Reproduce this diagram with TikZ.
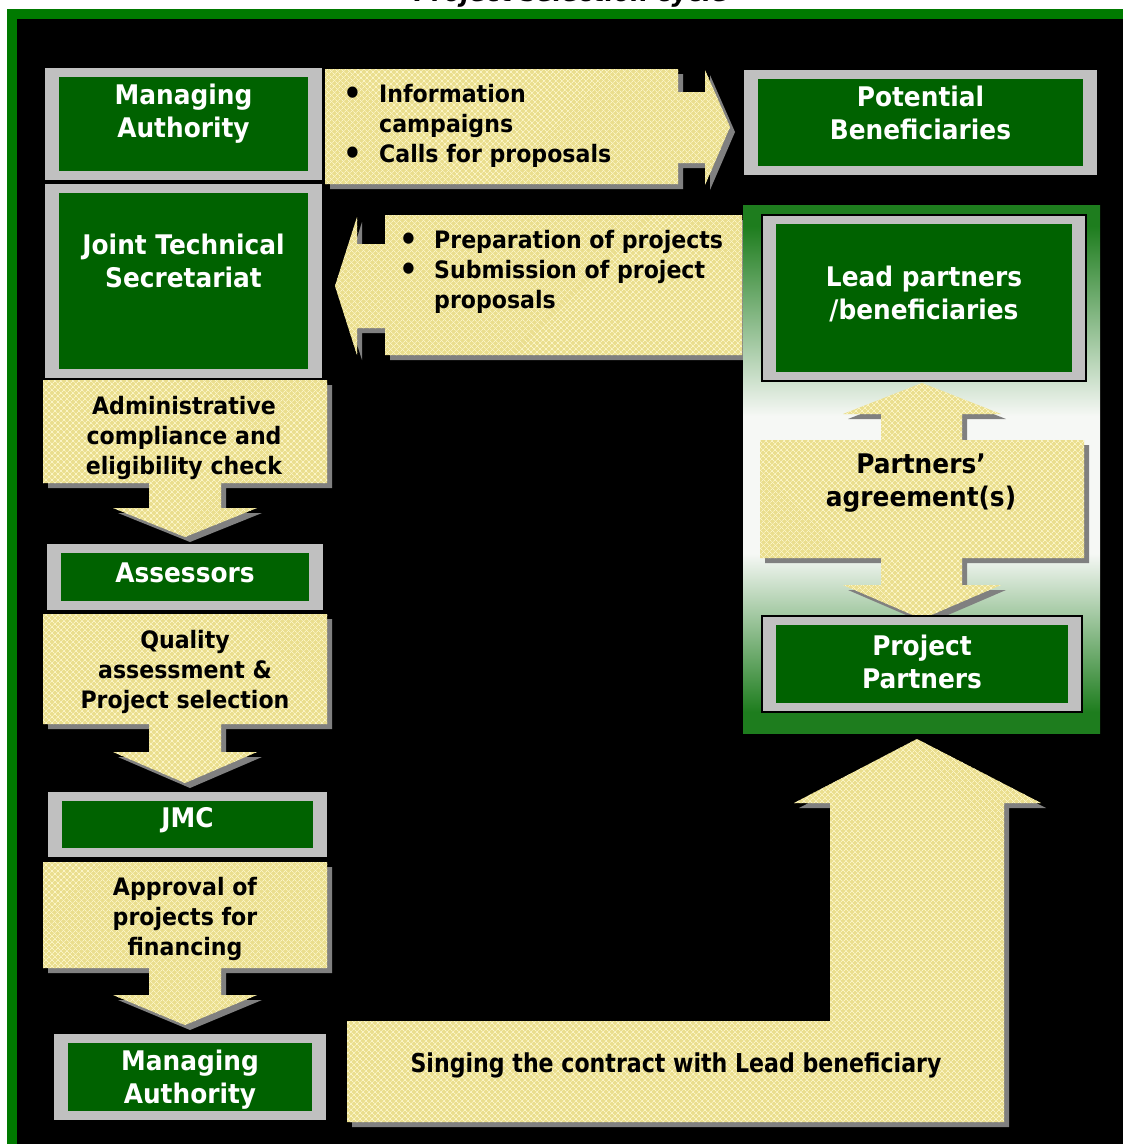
\documentclass[tikz,border=0pt]{standalone}
\usepackage{fontspec}
\setmainfont{DejaVu Sans}[FakeStretch=0.92]
\newfontfamily\contractfont{DejaVu Sans}[FakeStretch=0.85]
\usetikzlibrary{positioning,patterns.meta}

\definecolor{framegreen}{RGB}{0,122,0}
\definecolor{boxgreen}{RGB}{0,98,0}
\definecolor{boxgrey}{RGB}{192,192,192}
\definecolor{shadowgrey}{RGB}{128,128,128}
\definecolor{calloutbase}{RGB}{234,222,142}
\definecolor{calloutlight}{RGB}{251,245,198}
\definecolor{panelgreen}{RGB}{30,125,30}
\definecolor{panelpale}{RGB}{246,248,245}

\pgfdeclareverticalshading{panelfade}{100bp}{color(0bp)=(panelgreen); color(27bp)=(panelgreen);
  color(42bp)=(panelpale); color(55bp)=(panelpale);
  color(73bp)=(panelgreen); color(100bp)=(panelgreen)}

\newcommand{\bigbullet}{\raisebox{-2pt}{\fontsize{32}{30}\selectfont\textbullet}}

\begin{document}
\begin{tikzpicture}[x=1pt, y=-1pt,
  greenbox/.style 2 args = {fill=boxgrey, inner sep=0pt, minimum width=#1, minimum height=#2,
    path picture={\fill[boxgreen] ([xshift=14pt,yshift=-9pt]path picture bounding box.north west)
      rectangle ([xshift=-14pt,yshift=9pt]path picture bounding box.south east);}},
  boxtext/.style = {text=white, font=\bfseries\fontsize{27}{33}\selectfont, align=center, inner sep=0pt},
  steptext/.style = {text=black, font=\bfseries\fontsize{24}{30}\selectfont, align=center, inner sep=0pt},
  listtext/.style = {text=black, font=\bfseries\fontsize{24}{30}\selectfont, inner sep=0pt, anchor=west},
  callout/.style = {fill=calloutbase,
    preaction={fill=shadowgrey, transform canvas={shift={(5pt,-5pt)}}},
    postaction={pattern={Lines[angle=45,distance=4pt,line width=0.7pt]}, pattern color=calloutlight},
    postaction={pattern={Lines[angle=-45,distance=4pt,line width=0.7pt]}, pattern color=calloutlight}}]

  \useasboundingbox (0,0) rectangle (1123,1144);
  \fill[white] (0,0) rectangle (1123,1144);
  \fill[framegreen] (7,9) rectangle (1140,1160);
  \fill[black] (17,19) rectangle (1140,1160);
  \node[font=\bfseries\itshape\fontsize{27}{30}\selectfont, anchor=base, inner sep=0pt] (title) at (571,1) {Project selection cycle};

  % left column
  \node[greenbox={277pt}{112pt}] (MA1) at (183.5,124) {};
  \node[boxtext] (MA1txt) at ([yshift=10pt]MA1.center) {Managing\\Authority};
  \node[greenbox={277pt}{194pt}, below=4pt of MA1] (JTS) {};
  \node[boxtext] (JTStxt) at ([yshift=20pt]JTS.center) {Joint Technical\\Secretariat};

  \foreach \yt/\yb/\yh/\ytip in {380/483/508/537, 614/724/752/783, 862/968/995/1025}
    \path[callout] (43,\yt) -- (327,\yt) -- (327,\yb) -- (221,\yb) -- (221,\yh) -- (257,\yh)
      -- (185,\ytip) -- (113,\yh) -- (149,\yh) -- (149,\yb) -- (43,\yb) -- cycle;
  \node[steptext] (ADMtxt) at (184,438) {Administrative\\compliance and\\eligibility check};

  \node[greenbox={276pt}{66pt}] (AS) at (185,577) {};
  \node[boxtext] (AStxt) at ([yshift=4pt]AS.center) {Assessors};
  \node[steptext] (QAtxt) at (185,672) {Quality\\assessment \&\\Project selection};

  \node[greenbox={279pt}{65pt}] (JMC) at (187.5,824.5) {};
  \node[boxtext] (JMCtxt) at ([yshift=4pt]JMC.center) {JMC};
  \node[steptext] (APPtxt) at (185,919) {Approval of\\projects for\\financing};

  \node[greenbox={272pt}{86pt}] (MA2) at (190,1077) {};
  \node[boxtext] (MA2txt) at ([yshift=-3pt]MA2.center) {Managing\\Authority};

  % calls and submissions
  \path[callout] (325,69) -- (678,69) -- (678,92) -- (705,92) -- (705,70) -- (730,127)
    -- (705,185) -- (705,163) -- (678,163) -- (678,184) -- (325,184) -- cycle;
  \node[listtext] (INFtxt) at (343,126) {\begin{tabular}{@{}p{36pt}@{}l@{}}
    \bigbullet & Information\\ & campaigns\\ \bigbullet & Calls for proposals\end{tabular}};
  \path[callout] (742,215) -- (742,355) -- (385,355) -- (385,328) -- (357,328) -- (357,355)
    -- (335,286) -- (357,217) -- (357,244) -- (385,244) -- (385,215) -- cycle;
  \node[listtext] (SUBtxt) at (399,272.5) {\begin{tabular}{@{}p{35pt}@{}l@{}}
    \bigbullet & Preparation of projects\\ \bigbullet & Submission of project\\ & proposals\end{tabular}};

  \node[greenbox={353pt}{105pt}] (PB) at (920.5,122.5) {};
  \node[boxtext] (PBtxt) at ([yshift=10pt]PB.center) {Potential\\Beneficiaries};

  % partnership group
  \node[shading=panelfade, minimum width=357pt, minimum height=528pt, inner sep=0pt] (grp) at (921.5,469) {};
  \node[greenbox={324pt}{166pt}, draw=black, line width=1.5pt] (LP) at (924,298) {};
  \node[boxtext] (LPtxt) at ([yshift=4pt]LP.center) {Lead partners\\/beneficiaries};
  \path[callout] (760,440) -- (881,440) -- (881,414) -- (843,414) -- (922,383) -- (1001,414)
    -- (962,414) -- (962,440) -- (1084,440) -- (1084,558) -- (962,558) -- (962,585) -- (1001,585)
    -- (922,619) -- (843,585) -- (881,585) -- (881,558) -- (760,558) -- cycle;
  \node[text=black, font=\bfseries\fontsize{27}{33}\selectfont, align=center, inner sep=0pt] (AGRtxt) at (921,483.5) {Partners'\\agreement(s)};
  \node[greenbox={320pt}{96pt}, draw=black, line width=1.5pt] (PP) at (922,664) {};
  \node[boxtext] (PPtxt) at ([yshift=2pt]PP.center) {Project\\Partners};

  % contract
  \path[callout] (347,1021) -- (830,1021) -- (830,803) -- (794,803) -- (917,739) -- (1041,803)
    -- (1004,803) -- (1004,1122) -- (347,1122) -- cycle;
  \node[font=\contractfont\bfseries\fontsize{26}{30}\selectfont, inner sep=0pt] (SIGNtxt) at (676,1065) {Singing the contract with Lead beneficiary};
\end{tikzpicture}
\end{document}
